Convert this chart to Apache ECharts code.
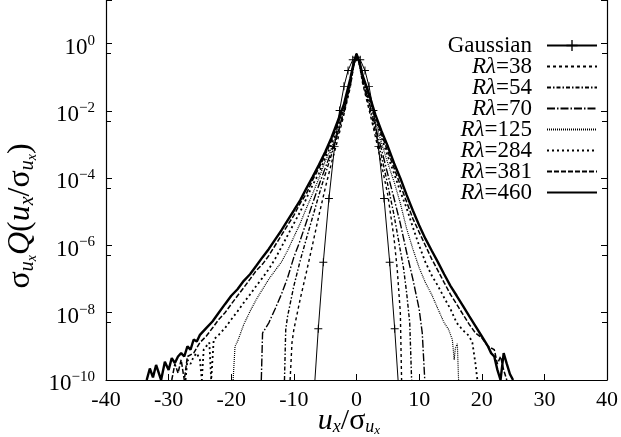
<!DOCTYPE html>
<html><head><meta charset="utf-8">
<script src="https://cdn.jsdelivr.net/npm/echarts@6/dist/echarts.min.js"></script>
<style>html,body{margin:0;padding:0;background:#fff}#c{width:621px;height:437px}</style>
</head><body><div id="c"></div>
<script>
// ---- data (u_x/sigma, sigma*Q) ----
const gaussian = [[-6.9,1.83e-11],[-6.1,3.32e-9],[-5.3,3.17e-7],[-4.4,2.50e-5],[-3.5,8.73e-4],[-2.7,1.04e-2],[-2.0,5.40e-2],[-1.35,1.60e-1],[-0.6,3.33e-1],[0,3.99e-1],[0.6,3.33e-1],[1.35,1.60e-1],[2.0,5.40e-2],[2.7,1.04e-2],[3.5,8.73e-4],[4.4,2.50e-5],[5.3,3.17e-7],[6.1,3.32e-9],[6.9,1.83e-11]];
const r38 = [[-10.6,1e-10],[-10.3,1.3e-9],[-10,3.2e-9],[-9,2.5e-8],[-8,1.6e-7],[-7,1.1e-6],[-6,7.9e-6],[-5,5.0e-5],[-4,2.8e-4],[-3,1.4e-3],[-2,7.9e-3],[-1,5.0e-2],[-0.5,1.9e-1],[0,4.7e-1],[0.5,2.2e-1],[1,6.3e-2],[2,1.1e-2],[3,1.8e-3],[4,2.5e-4],[5,3.2e-5],[6,1.6e-6],[6.5,2.0e-7],[7,1.0e-8],[7.2,1e-10]];
const r54 = [[-11.5,1e-10],[-11.3,3.2e-9],[-11,7.9e-9],[-10,6.3e-8],[-9,3.5e-7],[-8,1.6e-6],[-7,7.1e-6],[-6,3.2e-5],[-5,1.3e-4],[-4,5.0e-4],[-3,2.0e-3],[-2,8.9e-3],[-1,5.6e-2],[-0.5,2.0e-1],[0,4.7e-1],[0.5,2.3e-1],[1,7.1e-2],[2,1.4e-2],[3,2.5e-3],[4,4.5e-4],[5,6.3e-5],[6,7.9e-6],[7,7.1e-7],[7.5,2.2e-7],[8,4.0e-8],[8.5,5.0e-9],[8.8,1e-10]];
const r70 = [[-15.2,1e-10],[-15,2.5e-9],[-14,5.0e-9],[-13,1.3e-8],[-12,3.5e-8],[-11,1.1e-7],[-10,4.5e-7],[-9,1.4e-6],[-8,5.0e-6],[-7,1.8e-5],[-6,6.3e-5],[-5,2.0e-4],[-4,6.3e-4],[-3,2.2e-3],[-2,1.0e-2],[-1,6.3e-2],[-0.5,2.1e-1],[0,4.7e-1],[0.5,2.4e-1],[1,7.9e-2],[2,1.8e-2],[3,3.5e-3],[4,7.1e-4],[5,1.3e-4],[6,2.5e-5],[7,4.5e-6],[8,6.3e-7],[9,1.0e-7],[10,1.3e-8],[10.5,2.5e-9],[10.9,1e-10]];
const r125 = [[-19.7,1e-10],[-19.4,1.0e-9],[-19,1.4e-9],[-18,4.5e-9],[-17,1.1e-8],[-16,2.5e-8],[-15,5.0e-8],[-14,1.0e-7],[-13,1.8e-7],[-12,3.2e-7],[-11,7.1e-7],[-10,1.8e-6],[-9,4.5e-6],[-8,1.3e-5],[-7,3.5e-5],[-6,1.0e-4],[-5,3.2e-4],[-4,7.9e-4],[-3,2.5e-3],[-2,1.1e-2],[-1,6.3e-2],[-0.5,2.2e-1],[0,4.8e-1],[0.5,2.5e-1],[1,8.9e-2],[2,2.2e-2],[3,5.0e-3],[4,1.1e-3],[5,2.8e-4],[6,7.9e-5],[7,1.8e-5],[8,3.2e-6],[9,7.9e-7],[10,2.2e-7],[11,7.9e-8],[12,3.5e-8],[13,1.3e-8],[14,5.0e-9],[14.7,3.2e-9],[15.3,1.6e-9],[15.6,4.0e-10],[15.8,9.0e-10],[16.1,1.2e-9],[16.3,1e-10]];
const r284 = [[-27.3,1e-10],[-27,4.0e-10],[-26.5,3.0e-10],[-26,5.0e-10],[-25.5,6.3e-10],[-25,4.0e-10],[-24.7,1e-10],[-24.4,8.0e-10],[-24,1.0e-9],[-23.5,1.3e-9],[-23.2,1e-10],[-22.8,1.6e-9],[-22,2.2e-9],[-21,3.5e-9],[-20,6.3e-9],[-19,1.1e-8],[-18,2.0e-8],[-17,3.5e-8],[-16,6.3e-8],[-15,1.1e-7],[-14,2.0e-7],[-13,4.0e-7],[-12,8.9e-7],[-11,2.0e-6],[-10,4.5e-6],[-9,1.0e-5],[-8,2.5e-5],[-7,6.3e-5],[-6,1.4e-4],[-5,4.0e-4],[-4,1.0e-3],[-3,3.2e-3],[-2,1.3e-2],[-1,7.1e-2],[-0.5,2.3e-1],[0,5.0e-1],[0.5,2.6e-1],[1,1.0e-1],[2,2.5e-2],[3,6.3e-3],[4,1.6e-3],[5,4.5e-4],[6,1.4e-4],[7,4.0e-5],[8,1.3e-5],[9,3.5e-6],[10,1.0e-6],[11,3.2e-7],[12,1.3e-7],[13,6.3e-8],[14,2.8e-8],[15,1.3e-8],[16,5.0e-9],[17,3.0e-9],[17.5,2.5e-9],[18,2.0e-9],[18.5,1.3e-9],[19,3.0e-10],[19.3,1e-10]];
const r381 = [[-29.5,1e-10],[-29,3.0e-10],[-28.5,1.6e-10],[-28,4.0e-10],[-27.5,1e-10],[-27,5.0e-10],[-26,6.3e-10],[-25,1.3e-9],[-24,2.0e-9],[-23,3.5e-9],[-22,6.3e-9],[-21,1.0e-8],[-20,1.8e-8],[-19,3.2e-8],[-18,5.6e-8],[-17,1.0e-7],[-16,1.8e-7],[-15,2.8e-7],[-14,5.0e-7],[-13,1.0e-6],[-12,2.0e-6],[-11,4.0e-6],[-10,7.9e-6],[-9,1.8e-5],[-8,3.5e-5],[-7,8.9e-5],[-6,2.0e-4],[-5,5.0e-4],[-4,1.3e-3],[-3,4.0e-3],[-2,1.4e-2],[-1,7.9e-2],[-0.5,2.4e-1],[0,5.0e-1],[0.5,2.7e-1],[1,1.1e-1],[2,2.8e-2],[3,7.1e-3],[4,2.0e-3],[5,6.3e-4],[6,2.0e-4],[7,6.3e-5],[8,2.0e-5],[9,6.3e-6],[10,2.5e-6],[11,1.0e-6],[12,4.0e-7],[13,1.8e-7],[14,7.9e-8],[15,3.5e-8],[16,1.8e-8],[17,8.9e-9],[18,4.5e-9],[19,2.5e-9],[20,1.8e-9],[21,1.0e-9],[22,8.0e-10],[22.5,3.0e-10],[23,5.0e-10],[23.5,2.0e-10],[24,1e-10]];
const r460 = [[-33.5,1e-10],[-33,2.2e-10],[-32.5,1.2e-10],[-32,2.8e-10],[-31.2,1e-10],[-30.6,3.5e-10],[-30,2.0e-10],[-29.5,4.5e-10],[-29,3.2e-10],[-28.5,5.0e-10],[-28,6.3e-10],[-27.5,5.0e-10],[-27,1.0e-9],[-26.5,8.0e-10],[-26,1.6e-9],[-25.5,1.4e-9],[-25,2.2e-9],[-24,3.5e-9],[-23,5.5e-9],[-22,1.0e-8],[-21,1.8e-8],[-20,3.2e-8],[-19,5.0e-8],[-18,8.9e-8],[-17,1.4e-7],[-16,2.5e-7],[-15,4.5e-7],[-14,7.9e-7],[-13,1.5e-6],[-12,2.8e-6],[-11,5.6e-6],[-10,1.1e-5],[-9,2.2e-5],[-8,5.0e-5],[-7,1.1e-4],[-6,2.5e-4],[-5,6.0e-4],[-4,1.6e-3],[-3,5.0e-3],[-2,1.6e-2],[-1,8.9e-2],[-0.5,2.5e-1],[0,5.0e-1],[0.5,2.8e-1],[1,1.1e-1],[2,3.2e-2],[3,7.9e-3],[4,2.5e-3],[5,8.9e-4],[6,2.8e-4],[7,1.0e-4],[8,3.2e-5],[9,1.1e-5],[10,4.0e-6],[11,1.6e-6],[12,7.1e-7],[13,3.2e-7],[14,1.4e-7],[15,6.3e-8],[16,3.2e-8],[17,1.6e-8],[18,7.9e-9],[19,4.0e-9],[20,2.0e-9],[21,1.0e-9],[21.5,6.3e-10],[22,5.0e-10],[22.5,2.0e-10],[23,1.0e-10],[23.5,6.3e-10],[24,3.0e-10],[24.5,1.5e-10],[25,1e-10]];
const seriesNames = ['Gaussian','Rλ=38','Rλ=54','Rλ=70','Rλ=125','Rλ=284','Rλ=381','Rλ=460'];
const xTickValues = [-40,-30,-20,-10,0,10,20,30,40];

const SERIF = "'Liberation Serif','DejaVu Serif',serif";
const chart = echarts.init(document.getElementById('c'), null, {renderer:'canvas'});
const plusPath = 'path://M0,4.4H10V5.6H0Z M4.4,0H5.6V10H4.4Z';

function line(name, data, lw, dash, extra) {
  return Object.assign({
    name, type:'line', data, showSymbol:false, symbol:'none', animation:false,
    lineStyle:{color:'#000', width:lw, type:dash}, itemStyle:{color:'#000'}, z:2
  }, extra||{});
}
const dataSets = [gaussian, r38, r54, r70, r125, r284, r381, r460];
const styles = [
  [1,'solid'], [1.4,[3,3]], [1.4,[4,2,1.5,2]], [1.4,[8,2,1.5,2]], [1.2,[1,1]], [1.8,[2,3]], [1.5,[5,2]], [2.4,'solid']
];
const series = dataSets.map((d,i)=> i===0 ?
  line(seriesNames[0], d, styles[0][0], styles[0][1], {showSymbol:true, symbol:plusPath, symbolSize:[8,8]}) :
  line(seriesNames[i], d, styles[i][0], styles[i][1]));

const supFmt = v => {
  const l = Math.log10(v), e = Math.round(l);
  if (Math.abs(l-e) > 1e-6 || e > 0 || e % 2 !== 0) return '';
  return '{b|10}{s|' + (e<0 ? '−'+(-e) : e) + '}';
};
const axisRich = {b:{fontFamily:SERIF, fontSize:23, color:'#000', padding:[8,0,0,0]}, s:{fontFamily:SERIF, fontSize:15, color:'#000', padding:[0,0,6,0]}};

const legendData = seriesNames.map((n,i)=> i===0 ? {name:n} : {name:n, itemStyle:{color:'rgba(0,0,0,0)', borderWidth:0, opacity:0}});

chart.setOption({
  animation:false,
  backgroundColor:'#fff',
  grid:{left:106, right:12, top:0, bottom:57},
  legend:{
    data:legendData, orient:'vertical', right:18, top:29, align:'right',
    itemWidth:50, itemHeight:14, itemGap:-2,
    textStyle:{fontFamily:SERIF, fontSize:23, color:'#000', padding:[0,10,0,0], rich:{
      i:{fontFamily:SERIF, fontStyle:'italic', fontSize:23, color:'#000'},
      n:{fontFamily:SERIF, fontSize:23, color:'#000'}}},
    formatter: n => n === 'Gaussian' ? '{n|Gaussian}' : '{i|Rλ}{n|' + n.slice(2) + '}'
  },
  xAxis:{type:'value', min:-40, max:40, interval:10,
    axisLine:{onZero:false, lineStyle:{color:'#000', width:1.2}},
    axisTick:{inside:true, length:6, lineStyle:{color:'#000'}},
    splitLine:{show:false},
    axisLabel:{margin:9, fontFamily:SERIF, fontSize:22, color:'#000',
      formatter: v => xTickValues.includes(v) ? String(v) : ''}
  },
  yAxis:[{type:'log', logBase:10, min:1e-10, max:20, interval:2,
    axisLine:{show:true, onZero:false, lineStyle:{color:'#000', width:1.2}},
    axisTick:{inside:true, length:6, lineStyle:{color:'#000'}},
    minorTick:{show:true, splitNumber:2, length:5, lineStyle:{color:'#000'}},
    splitLine:{show:false}, minorSplitLine:{show:false},
    axisLabel:{margin:11, formatter:supFmt, rich:axisRich, showMaxLabel:false}
  },{type:'log', logBase:10, min:1e-10, max:20, interval:2, position:'right',
    axisLine:{show:true, onZero:false, lineStyle:{color:'#000', width:1.2}},
    axisTick:{inside:true, length:6, lineStyle:{color:'#000'}},
    minorTick:{show:true, splitNumber:2, length:5, lineStyle:{color:'#000'}},
    splitLine:{show:false}, axisLabel:{show:false}
  }],
  series,
  graphic:[
    {type:'text', x:349, y:421, style:{
      text:'{i|u}{sb|x}{n|/σ}{sb|u}{ssb|x}', fill:'#000', align:'center', verticalAlign:'middle',
      rich:{i:{fontFamily:SERIF, fontStyle:'italic', fontSize:30}, n:{fontFamily:SERIF, fontSize:30},
            sb:{fontFamily:SERIF, fontStyle:'italic', fontSize:18, padding:[13,0,0,0]},
            ssb:{fontFamily:SERIF, fontStyle:'italic', fontSize:13, padding:[20,0,0,0]}}}},
    {type:'text', x:21, y:216, rotation:Math.PI/2,
      style:{text:'{n|σ}{sb|u}{ssb|x}{i|Q}{n|(}{i|u}{sb|x}{n|/σ}{sb|u}{ssb|x}{n|)}', fill:'#000', align:'center', verticalAlign:'middle',
        rich:{i:{fontFamily:SERIF, fontStyle:'italic', fontSize:32}, n:{fontFamily:SERIF, fontSize:32},
              sb:{fontFamily:SERIF, fontStyle:'italic', fontSize:20, padding:[14,0,0,0]},
              ssb:{fontFamily:SERIF, fontStyle:'italic', fontSize:14, padding:[22,0,0,0]}}}}
  ]
});
</script></body></html>
